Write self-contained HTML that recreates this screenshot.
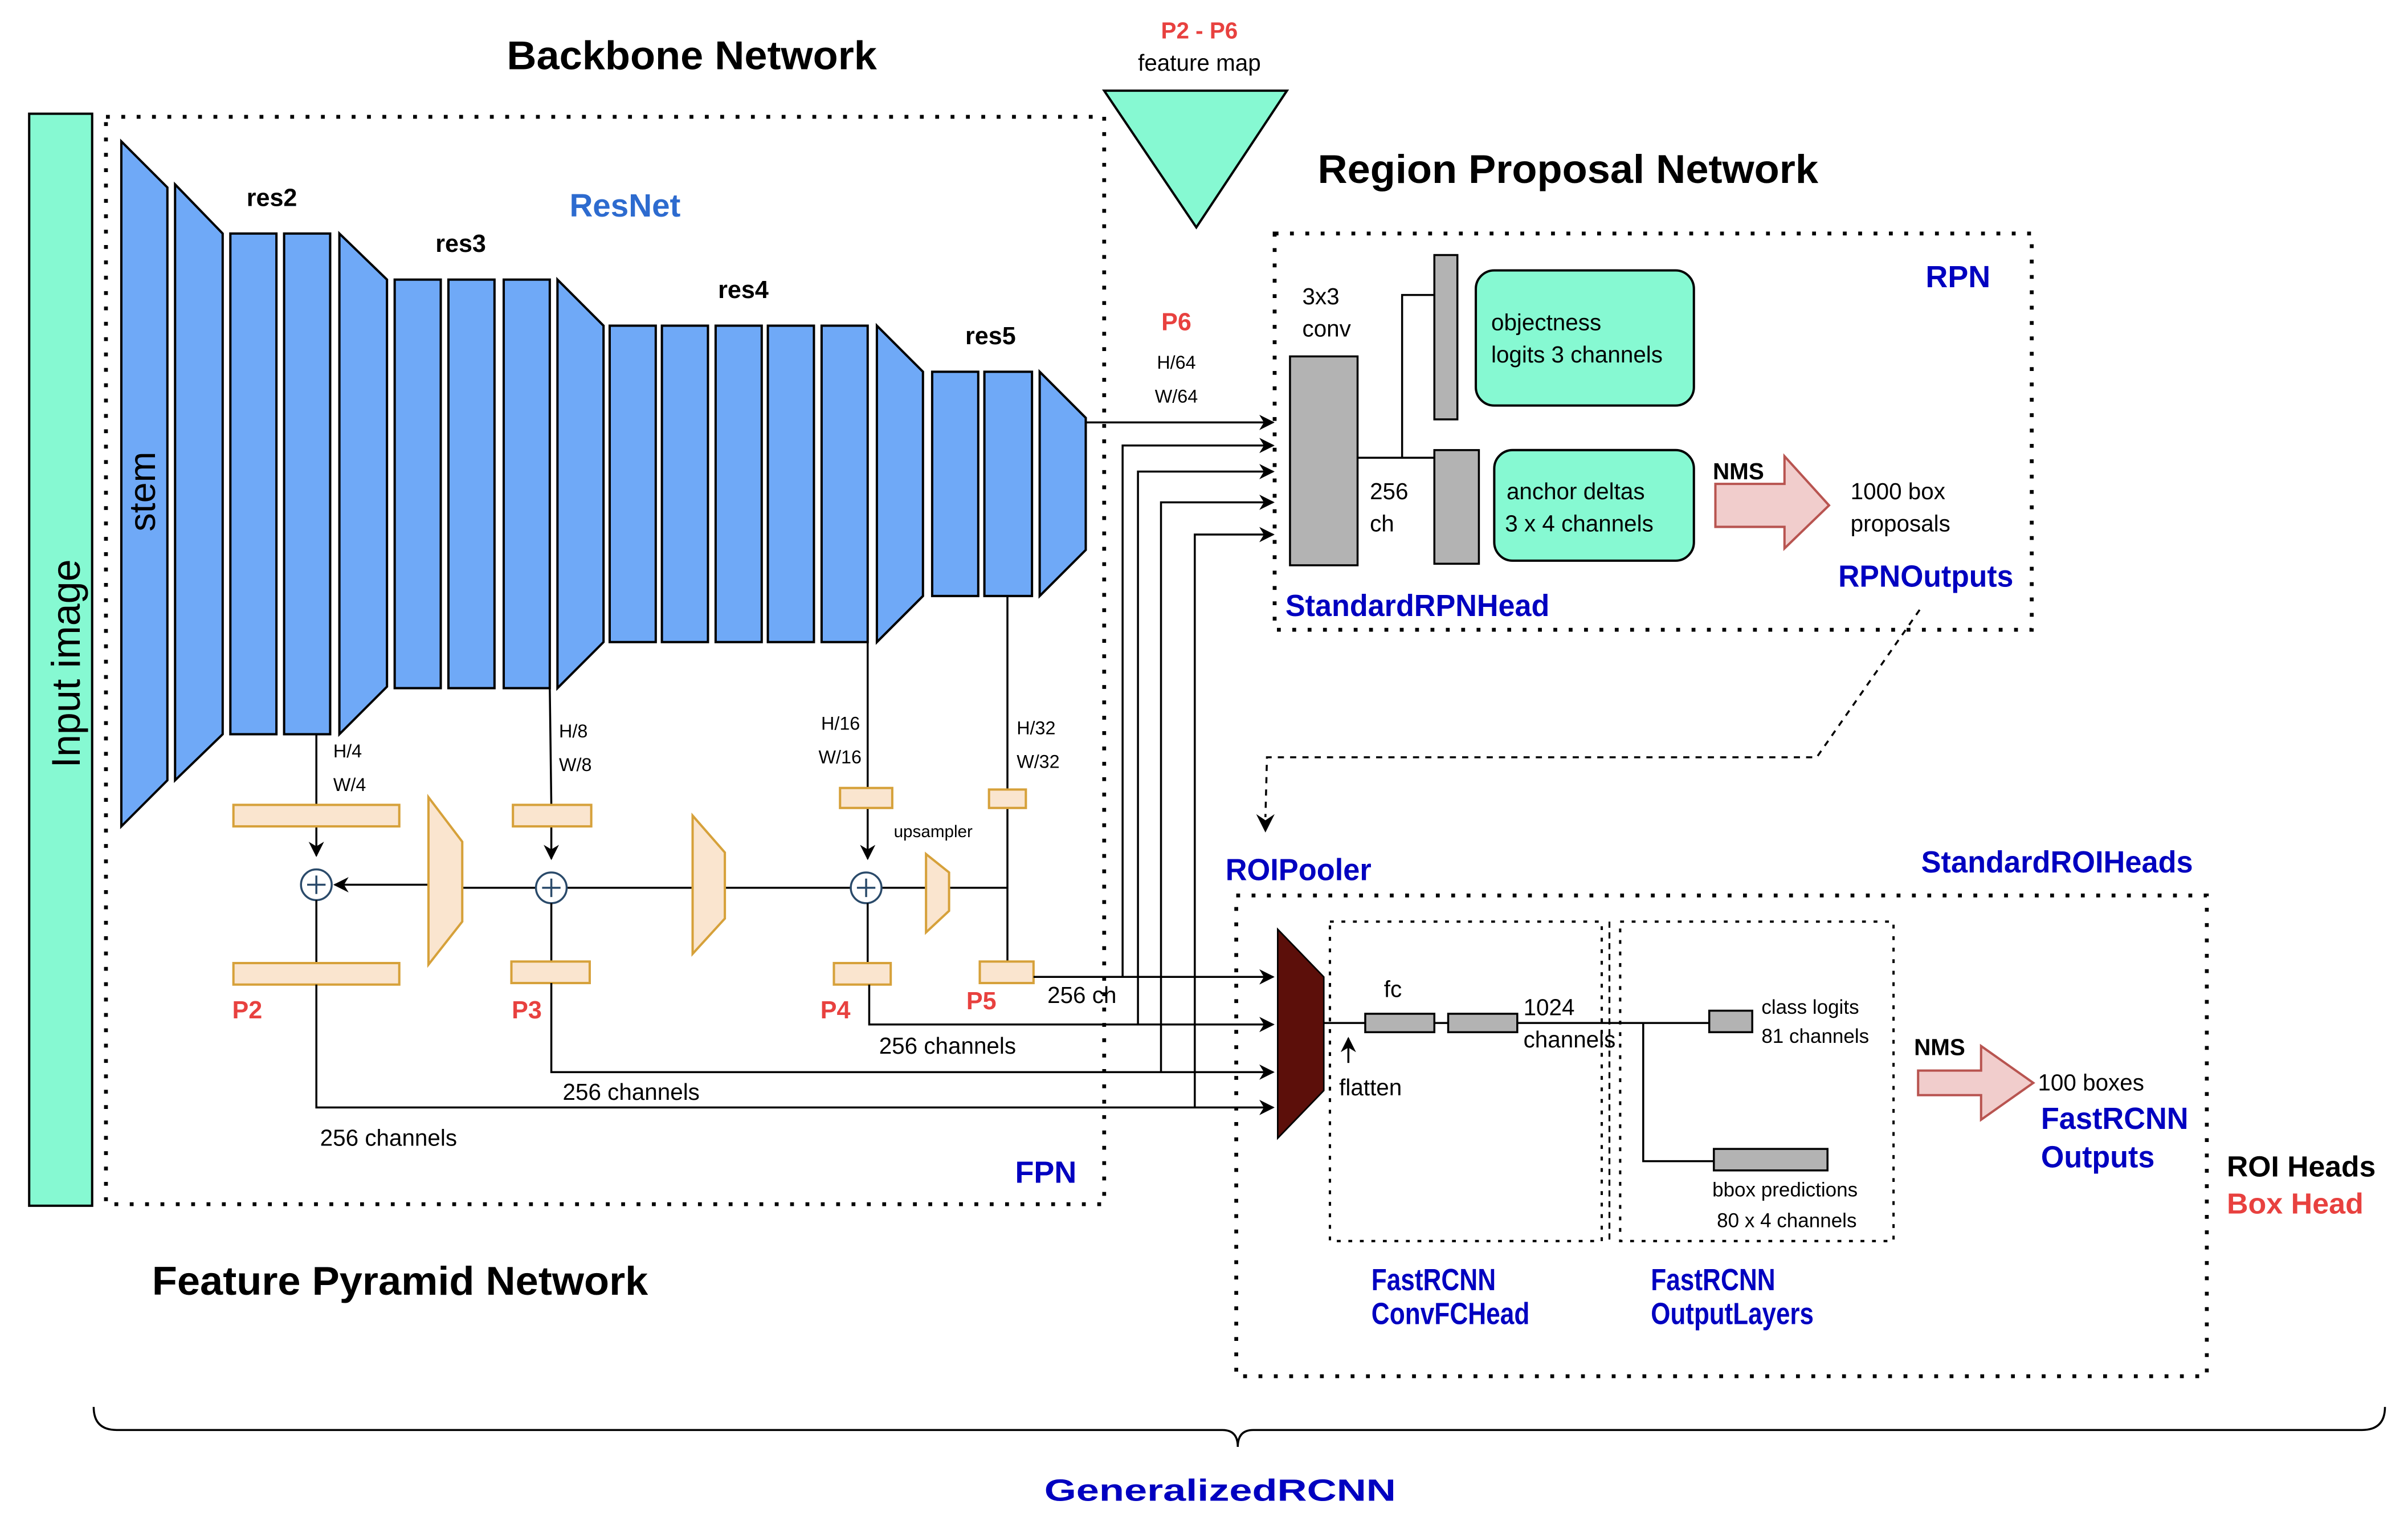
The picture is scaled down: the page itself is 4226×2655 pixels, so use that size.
<!DOCTYPE html>
<html><head><meta charset="utf-8"><style>
html,body{margin:0;padding:0;background:#fff;}
svg{display:block;}
text{font-family:"Liberation Sans",sans-serif;}
.b{font-weight:bold;}
.blue{fill:#0000c0;font-weight:bold;font-size:20px;}
.red{fill:#e8413f;font-weight:bold;}
.blk{fill:#6fa9f7;stroke:#000;stroke-width:1.5;}
.org{fill:#fae5cf;stroke:#d6a13a;stroke-width:1.5;}
.dot{fill:none;stroke:#000;stroke-width:2.5;stroke-dasharray:2.5 7.5;}
.ln{fill:none;stroke:#000;stroke-width:1.3;}
.gr{fill:#b3b3b3;stroke:#000;stroke-width:1.3;}
</style></head><body>
<svg width="4226" height="2655" viewBox="0 0 1568 985" xmlns="http://www.w3.org/2000/svg">
<defs>
<marker id="ar" markerWidth="10" markerHeight="10" refX="9" refY="5" orient="auto" markerUnits="userSpaceOnUse"><path d="M0,0 L10,5 L0,10 L3,5 z" fill="#000"/></marker>
</defs>
<rect width="1568" height="985" fill="#fff"/>
<text x="330" y="45" font-size="26" class="b" textLength="241" lengthAdjust="spacingAndGlyphs">Backbone Network</text>
<text x="858" y="119" font-size="26" class="b" textLength="326" lengthAdjust="spacingAndGlyphs">Region Proposal Network</text>
<text x="99" y="843" font-size="26" class="b" textLength="323" lengthAdjust="spacingAndGlyphs">Feature Pyramid Network</text>
<text x="781" y="25" font-size="15" class="red" text-anchor="middle">P2 - P6</text>
<text x="781" y="46" font-size="15" text-anchor="middle">feature map</text>
<polygon points="719,59 838,59 779,148" fill="#86f9d2" stroke="#000" stroke-width="1.5"/>
<rect x="19" y="74" width="41" height="711" fill="#86f9d2" stroke="#000" stroke-width="1.5"/>
<text transform="translate(52,432) rotate(-90)" font-size="26" text-anchor="middle">Input image</text>
<rect x="69" y="76" width="650" height="708" class="dot"/>
<polygon class="blk" points="79,92 109,122 109,508 79,538"/>
<text transform="translate(101,320) rotate(-90)" font-size="24" text-anchor="middle">stem</text>
<polygon class="blk" points="114,120 145,152 145,478 114,508"/>
<rect class="blk" x="150" y="152" width="30" height="326"/>
<rect class="blk" x="185" y="152" width="30" height="326"/>
<polygon class="blk" points="221,152 252,182 252,447 221,478"/>
<rect class="blk" x="257" y="182" width="30" height="266"/>
<rect class="blk" x="292" y="182" width="30" height="266"/>
<rect class="blk" x="328" y="182" width="30" height="266"/>
<polygon class="blk" points="363,182 393,212 393,418 363,448"/>
<rect class="blk" x="397" y="212" width="30" height="206"/>
<rect class="blk" x="431" y="212" width="30" height="206"/>
<rect class="blk" x="466" y="212" width="30" height="206"/>
<rect class="blk" x="500" y="212" width="30" height="206"/>
<rect class="blk" x="535" y="212" width="30" height="206"/>
<polygon class="blk" points="571,212 601,242 601,388 571,418"/>
<rect class="blk" x="607" y="242" width="30" height="146"/>
<rect class="blk" x="641" y="242" width="31" height="146"/>
<polygon class="blk" points="677,242 707,272 707,358 677,388"/>
<text x="177" y="134" font-size="16" class="b" text-anchor="middle">res2</text>
<text x="300" y="164" font-size="16" class="b" text-anchor="middle">res3</text>
<text x="484" y="194" font-size="16" class="b" text-anchor="middle">res4</text>
<text x="645" y="224" font-size="16" class="b" text-anchor="middle">res5</text>
<text x="407" y="141" font-size="21" class="b" fill="#2d6bcf" text-anchor="middle">ResNet</text>
<path class="ln" d="M206,478 V524 M206,538 V557" marker-end="url(#ar)"/>
<path class="ln" d="M358,448 L359,524 M359,538 V559" marker-end="url(#ar)"/>
<path class="ln" d="M565,418 V513 M565,526 V559" marker-end="url(#ar)"/>
<path class="ln" d="M656,388 V626"/>
<text x="217" y="493" font-size="12">H/4</text><text x="217" y="515" font-size="12">W/4</text>
<text x="364" y="480" font-size="12">H/8</text><text x="364" y="502" font-size="12">W/8</text>
<text x="560" y="475" font-size="12" text-anchor="end">H/16</text><text x="561" y="497" font-size="12" text-anchor="end">W/16</text>
<text x="662" y="478" font-size="12">H/32</text><text x="662" y="500" font-size="12">W/32</text>
<rect class="org" x="152" y="524" width="108" height="14"/>
<rect class="org" x="334" y="524" width="51" height="14"/>
<rect class="org" x="547" y="513" width="34" height="13"/>
<rect class="org" x="644" y="514" width="24" height="12"/>
<path class="ln" stroke-width="2" d="M656,578 H618 M603,578 H574 M554,578 H472 M451,578 H369 M349,578 H301"/>
<path class="ln" stroke-width="2" d="M279,576 H218" marker-end="url(#ar)"/>
<polygon class="org" points="279,519 301,548 301,600 279,628"/>
<polygon class="org" points="451,531 472,555 472,598 451,621"/>
<polygon class="org" points="603,556 618,568 618,593 603,607"/>
<text x="582" y="545" font-size="11">upsampler</text>
<g fill="#fff" stroke="#2a4a6a" stroke-width="1.3">
<circle cx="206" cy="576" r="10"/><circle cx="359" cy="578" r="10"/><circle cx="564" cy="578" r="10"/></g>
<path stroke="#2a4a6a" stroke-width="1.3" d="M200,576 H212 M206,570 V582 M353,578 H365 M359,572 V584 M558,578 H570 M564,572 V584"/>
<path class="ln" d="M206,586 V627 M359,588 V626 M565,588 V627"/>
<rect class="org" x="152" y="627" width="108" height="14"/>
<rect class="org" x="333" y="626" width="51" height="14"/>
<rect class="org" x="543" y="627" width="37" height="14"/>
<rect class="org" x="638" y="626" width="35" height="14"/>
<text x="161" y="663" font-size="16" class="red" text-anchor="middle">P2</text>
<text x="343" y="663" font-size="16" class="red" text-anchor="middle">P3</text>
<text x="544" y="663" font-size="16" class="red" text-anchor="middle">P4</text>
<text x="639" y="657" font-size="16" class="red" text-anchor="middle">P5</text>
<path class="ln" stroke-width="1.8" d="M673,636 H829" marker-end="url(#ar)"/>
<path class="ln" stroke-width="1.8" d="M566,641 V667 H829" marker-end="url(#ar)"/>
<path class="ln" stroke-width="1.8" d="M359,640 V698 H829" marker-end="url(#ar)"/>
<path class="ln" stroke-width="1.8" d="M206,641 V721 H829" marker-end="url(#ar)"/>
<text x="682" y="653" font-size="15">256 ch</text>
<text x="617" y="686" font-size="15" text-anchor="middle">256 channels</text>
<text x="411" y="716" font-size="15" text-anchor="middle">256 channels</text>
<text x="253" y="746" font-size="15" text-anchor="middle">256 channels</text>
<text x="681" y="770" class="blue" font-size="21" text-anchor="middle">FPN</text>
<path class="ln" stroke-width="1.5" d="M707,275 H829" marker-end="url(#ar)"/>
<path class="ln" stroke-width="1.5" d="M731,636 V290 H829" marker-end="url(#ar)"/>
<path class="ln" stroke-width="1.5" d="M741,667 V307 H829" marker-end="url(#ar)"/>
<path class="ln" stroke-width="1.5" d="M756,698 V327 H829" marker-end="url(#ar)"/>
<path class="ln" stroke-width="1.5" d="M778,721 V348 H829" marker-end="url(#ar)"/>
<text x="766" y="215" font-size="16" class="red" text-anchor="middle">P6</text>
<text x="766" y="240" font-size="12" text-anchor="middle">H/64</text>
<text x="766" y="262" font-size="12" text-anchor="middle">W/64</text>
<rect x="830" y="152" width="493" height="258" class="dot"/>
<text x="1275" y="187" class="blue" font-size="24" text-anchor="middle">RPN</text>
<text x="848" y="198" font-size="15">3x3</text>
<text x="848" y="219" font-size="15">conv</text>
<rect class="gr" x="840" y="232" width="44" height="136"/>
<rect class="gr" x="934" y="166" width="15" height="107"/>
<rect class="gr" x="934" y="293" width="29" height="74"/>
<path class="ln" d="M884,298 H934 M913,298 V192 H934"/>
<text x="892" y="325" font-size="15">256</text>
<text x="892" y="346" font-size="15">ch</text>
<rect x="961" y="176" width="142" height="88" rx="12" fill="#86f9d2" stroke="#000" stroke-width="1.5"/>
<text x="971" y="215" font-size="15">objectness</text>
<text x="971" y="236" font-size="15">logits 3 channels</text>
<rect x="973" y="293" width="130" height="72" rx="12" fill="#86f9d2" stroke="#000" stroke-width="1.5"/>
<text x="981" y="325" font-size="15">anchor deltas</text>
<text x="980" y="346" font-size="15">3 x 4 channels</text>
<text x="1132" y="312" font-size="15" class="b" text-anchor="middle">NMS</text>
<polygon points="1117,315 1162,315 1162,297 1191,329 1162,357 1162,343 1117,343" fill="#f1cdcc" stroke="#b85450" stroke-width="1.5"/>
<text x="1205" y="325" font-size="15">1000 box</text>
<text x="1205" y="346" font-size="15">proposals</text>
<text x="1197" y="382" class="blue" font-size="19" textLength="114" lengthAdjust="spacingAndGlyphs">RPNOutputs</text>
<text x="837" y="401" class="blue" font-size="19" textLength="172" lengthAdjust="spacingAndGlyphs">StandardRPNHead</text>
<path class="ln" stroke-dasharray="4 4" d="M1250,397 L1183,493 H825 L824,532"/>
<path d="M818,530 L824,542 L830,530 L824,534 z" fill="#000"/>
<text x="798" y="573" class="blue" font-size="19" textLength="95" lengthAdjust="spacingAndGlyphs">ROIPooler</text>
<text x="1251" y="568" class="blue" font-size="19" textLength="177" lengthAdjust="spacingAndGlyphs">StandardROIHeads</text>
<rect x="805" y="583" width="632" height="313" class="dot"/>
<polygon points="832,605 862,636 862,710 832,741" fill="#5c0f0a" stroke="#000" stroke-width="1"/>
<rect x="866" y="600" width="177" height="208" fill="none" stroke="#000" stroke-width="1.5" stroke-dasharray="2.5 5"/>
<rect x="1055" y="600" width="178" height="208" fill="none" stroke="#000" stroke-width="1.5" stroke-dasharray="2.5 5"/>
<path d="M1048,600 V808" stroke="#000" stroke-width="1.2" stroke-dasharray="4 3"/>
<path class="ln" d="M862,666 H1113 M1070,666 V756 H1116"/>
<path class="ln" d="M878,692 V676" marker-end="url(#ar)"/>
<rect class="gr" x="889" y="660" width="45" height="12"/>
<rect class="gr" x="943" y="660" width="45" height="12"/>
<rect class="gr" x="1113" y="658" width="28" height="14"/>
<rect class="gr" x="1116" y="748" width="74" height="14"/>
<text x="907" y="649" font-size="15" text-anchor="middle">fc</text>
<text x="992" y="661" font-size="15">1024</text>
<text x="992" y="682" font-size="15">channels</text>
<text x="872" y="713" font-size="15">flatten</text>
<text x="1147" y="660" font-size="13">class logits</text>
<text x="1147" y="679" font-size="13">81 channels</text>
<text x="1115" y="779" font-size="13">bbox predictions</text>
<text x="1118" y="799" font-size="13">80 x 4 channels</text>
<text x="1263" y="687" font-size="15" class="b" text-anchor="middle">NMS</text>
<polygon points="1249,697 1290,697 1290,681 1324,705 1290,729 1290,713 1249,713" fill="#f1cdcc" stroke="#b85450" stroke-width="1.5"/>
<text x="1327" y="710" font-size="15">100 boxes</text>
<text x="1329" y="735" class="blue" font-size="19" textLength="96" lengthAdjust="spacingAndGlyphs">FastRCNN</text>
<text x="1329" y="760" class="blue" font-size="19" textLength="74" lengthAdjust="spacingAndGlyphs">Outputs</text>
<text x="1450" y="766" font-size="19" class="b" textLength="97" lengthAdjust="spacingAndGlyphs">ROI Heads</text>
<text x="1450" y="790" font-size="19" class="red" textLength="89" lengthAdjust="spacingAndGlyphs">Box Head</text>
<text x="893" y="840" class="blue" font-size="16" textLength="81" lengthAdjust="spacingAndGlyphs">FastRCNN</text>
<text x="893" y="862" class="blue" font-size="16" textLength="103" lengthAdjust="spacingAndGlyphs">ConvFCHead</text>
<text x="1075" y="840" class="blue" font-size="16" textLength="81" lengthAdjust="spacingAndGlyphs">FastRCNN</text>
<text x="1075" y="862" class="blue" font-size="16" textLength="106" lengthAdjust="spacingAndGlyphs">OutputLayers</text>
<path class="ln" stroke-width="1.6" d="M61,916 Q61,931 76,931 H796 Q806,931 806,942 Q806,931 816,931 H1538 Q1553,931 1553,916"/>
<text x="680" y="977" class="blue" font-size="30" textLength="229" lengthAdjust="spacingAndGlyphs">GeneralizedRCNN</text>
</svg>
</body></html>
